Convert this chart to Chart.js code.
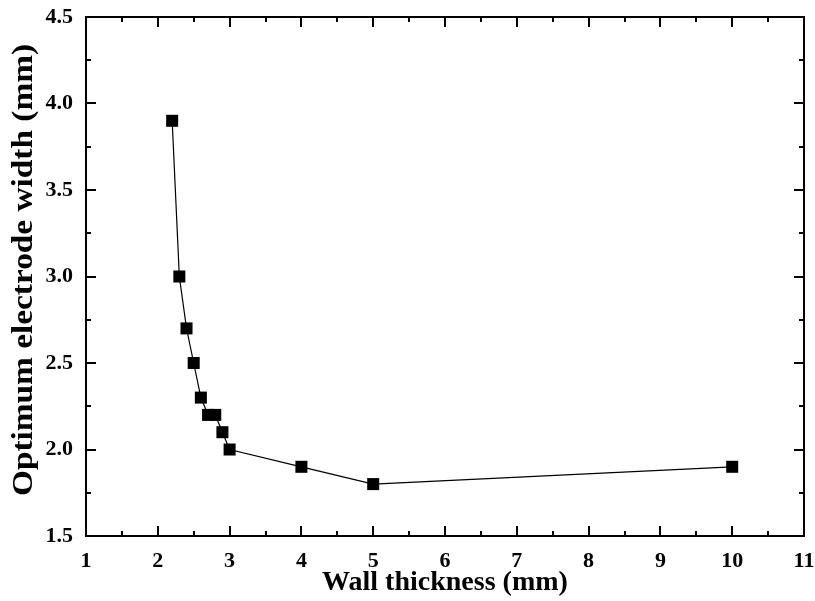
<!DOCTYPE html>
<html>
<head>
<meta charset="utf-8">
<script src="https://cdn.jsdelivr.net/npm/chart.js@4/dist/chart.umd.min.js"></script>
<style>
html,body{margin:0;padding:0;background:#fff;}
#wrap{width:815px;height:601px;position:relative;}
</style>
</head>
<body>
<div id="wrap"><canvas id="c" width="815" height="601"></canvas></div>
<script>
const wallThickness = [2.2, 2.3, 2.4, 2.5, 2.6, 2.7, 2.8, 2.9, 3.0, 4.0, 5.0, 10.0];
const electrodeWidth = [3.9, 3.0, 2.7, 2.5, 2.3, 2.2, 2.2, 2.1, 2.0, 1.9, 1.8, 1.9];
const xMajorTicks = [1, 2, 3, 4, 5, 6, 7, 8, 9, 10, 11];
const yMajorTicks = [1.5, 2.0, 2.5, 3.0, 3.5, 4.0, 4.5];
const xMinorTicks = [1.5, 2.5, 3.5, 4.5, 5.5, 6.5, 7.5, 8.5, 9.5, 10.5];
const yMinorTicks = [1.75, 2.25, 2.75, 3.25, 3.75, 4.25];
const xTitle = 'Wall thickness (mm)';
const yTitle = 'Optimum electrode width (mm)';

const points = wallThickness.map((x, i) => ({x: x, y: electrodeWidth[i]}));

const FONT = "'Liberation Serif', 'Times New Roman', serif";

const frameTicks = {
  id: 'frameTicks',
  afterDraw(chart) {
    const ctx = chart.ctx;
    const a = chart.chartArea;
    const xs = chart.scales.x, ys = chart.scales.y;
    ctx.save();
    ctx.strokeStyle = '#000';
    ctx.lineWidth = 2;
    ctx.lineCap = 'butt';
    ctx.beginPath();
    const major = 10, minor = 5;
    xMajorTicks.forEach(v => {
      const p = Math.round(xs.getPixelForValue(v));
      ctx.moveTo(p, a.bottom); ctx.lineTo(p, a.bottom - major);
      ctx.moveTo(p, a.top); ctx.lineTo(p, a.top + major);
    });
    xMinorTicks.forEach(v => {
      const p = Math.round(xs.getPixelForValue(v));
      ctx.moveTo(p, a.bottom); ctx.lineTo(p, a.bottom - minor);
      ctx.moveTo(p, a.top); ctx.lineTo(p, a.top + minor);
    });
    yMajorTicks.forEach(v => {
      const p = Math.round(ys.getPixelForValue(v));
      ctx.moveTo(a.left, p); ctx.lineTo(a.left + major, p);
      ctx.moveTo(a.right, p); ctx.lineTo(a.right - major, p);
    });
    yMinorTicks.forEach(v => {
      const p = Math.round(ys.getPixelForValue(v));
      ctx.moveTo(a.left, p); ctx.lineTo(a.left + minor, p);
      ctx.moveTo(a.right, p); ctx.lineTo(a.right - minor, p);
    });
    ctx.stroke();
    ctx.beginPath();
    ctx.rect(a.left, a.top, a.right - a.left, a.bottom - a.top);
    ctx.stroke();

    // y axis title (stretched along its length like the original)
    ctx.fillStyle = '#000';
    ctx.font = "bold 29px " + FONT;
    ctx.textAlign = 'center';
    ctx.textBaseline = 'middle';
    const w = ctx.measureText(yTitle).width;
    ctx.translate(25, 270);
    ctx.rotate(-Math.PI / 2);
    ctx.scale(452 / w, 1);
    ctx.fillText(yTitle, 0, 0);
    ctx.restore();
  }
};

new Chart(document.getElementById('c'), {
  type: 'scatter',
  data: {
    datasets: [{
      data: points,
      showLine: true,
      borderColor: '#000',
      borderWidth: 1.2,
      backgroundColor: '#000',
      pointStyle: 'rect',
      pointRadius: 8.5,
      pointHoverRadius: 8.5,
      pointBorderWidth: 0,
      tension: 0
    }]
  },
  options: {
    responsive: false,
    animation: false,
    devicePixelRatio: 1,
    layout: {padding: {top: 17, right: 11, left: 0, bottom: 0}},
    plugins: {legend: {display: false}, tooltip: {enabled: false}},
    scales: {
      x: {
        type: 'linear',
        min: 1, max: 11,
        afterBuildTicks: s => { s.ticks = xMajorTicks.map(v => ({value: v})); },
        afterFit: s => { s.height = 65; s.paddingLeft = 0; s.paddingRight = 0; },
        grid: {display: false, drawTicks: false},
        border: {display: true, color: '#000', width: 2},
        ticks: {
          color: '#000', padding: 12, maxRotation: 0,
          font: {family: FONT, size: 22, weight: 'bold'},
          callback: v => String(v)
        },
        title: {
          display: true, text: xTitle, color: '#000',
          font: {family: FONT, size: 28, weight: 'bold'},
          padding: {top: 0, bottom: 1}
        }
      },
      y: {
        type: 'linear',
        min: 1.5, max: 4.5,
        afterBuildTicks: s => { s.ticks = yMajorTicks.map(v => ({value: v})); },
        afterFit: s => { s.width = 86; s.paddingTop = 0; s.paddingBottom = 0; },
        grid: {display: false, drawTicks: false},
        border: {display: true, color: '#000', width: 2},
        ticks: {
          color: '#000', padding: 13,
          font: {family: FONT, size: 22, weight: 'bold'},
          callback: v => Number(v).toFixed(1)
        },
        title: {display: false}
      }
    }
  },
  plugins: [frameTicks]
});
</script>
</body>
</html>
